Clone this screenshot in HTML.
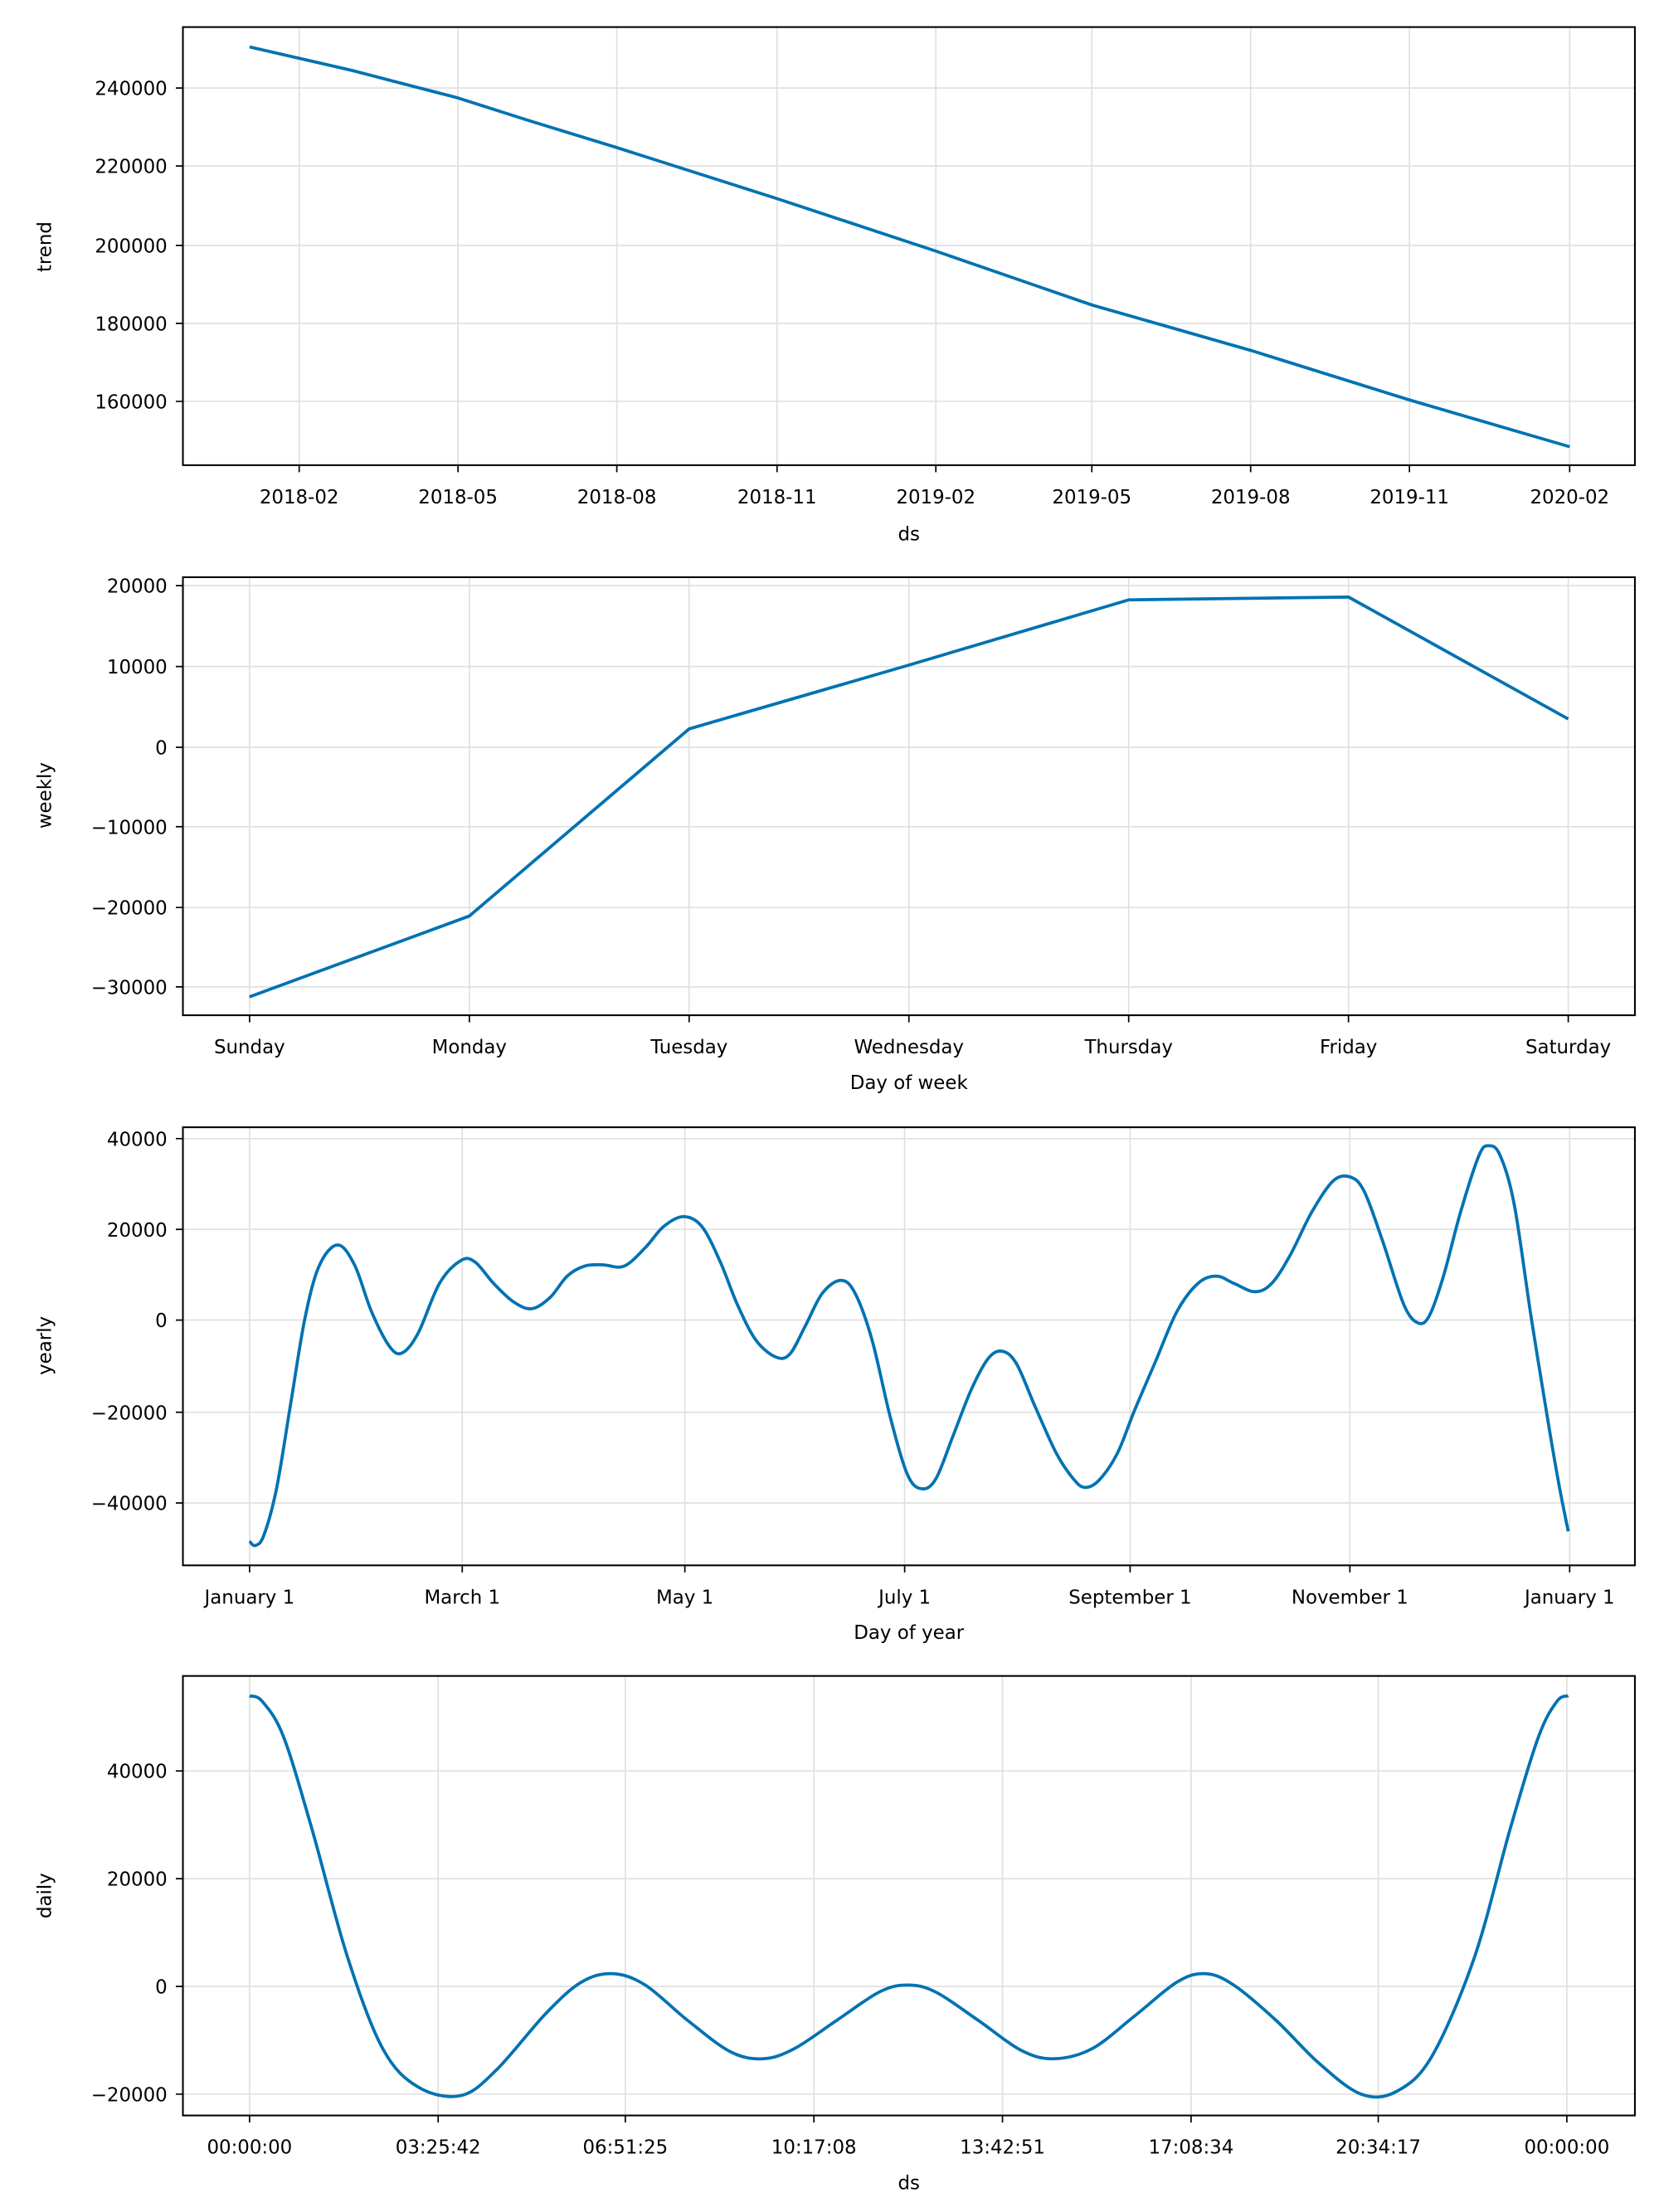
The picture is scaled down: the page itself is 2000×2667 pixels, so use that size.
<!DOCTYPE html>
<html><head><style>html,body{margin:0;padding:0;background:#fff}svg{display:block}</style></head><body>
<svg id="s" width="2000" height="2667" viewBox="0 0 1170 1560" xmlns="http://www.w3.org/2000/svg" font-family="'DejaVu Sans','Liberation Sans',sans-serif" font-size="13.4">
<rect width="1170" height="1560" fill="#fff"/>
<g stroke="#e0e0e0" stroke-width="1">
<line x1="211" y1="19" x2="211" y2="328"/><line x1="323" y1="19" x2="323" y2="328"/><line x1="435" y1="19" x2="435" y2="328"/><line x1="548" y1="19" x2="548" y2="328"/><line x1="660" y1="19" x2="660" y2="328"/><line x1="770" y1="19" x2="770" y2="328"/><line x1="882" y1="19" x2="882" y2="328"/><line x1="994" y1="19" x2="994" y2="328"/><line x1="1107" y1="19" x2="1107" y2="328"/>
<line x1="129" y1="62" x2="1153" y2="62"/><line x1="129" y1="117" x2="1153" y2="117"/><line x1="129" y1="173" x2="1153" y2="173"/><line x1="129" y1="228" x2="1153" y2="228"/><line x1="129" y1="283" x2="1153" y2="283"/>
<line x1="176" y1="407" x2="176" y2="716"/><line x1="331" y1="407" x2="331" y2="716"/><line x1="486" y1="407" x2="486" y2="716"/><line x1="641" y1="407" x2="641" y2="716"/><line x1="796" y1="407" x2="796" y2="716"/><line x1="951" y1="407" x2="951" y2="716"/><line x1="1106" y1="407" x2="1106" y2="716"/>
<line x1="129" y1="413" x2="1153" y2="413"/><line x1="129" y1="470" x2="1153" y2="470"/><line x1="129" y1="527" x2="1153" y2="527"/><line x1="129" y1="583" x2="1153" y2="583"/><line x1="129" y1="640" x2="1153" y2="640"/><line x1="129" y1="696" x2="1153" y2="696"/>
<line x1="176" y1="795" x2="176" y2="1104"/><line x1="326" y1="795" x2="326" y2="1104"/><line x1="483" y1="795" x2="483" y2="1104"/><line x1="638" y1="795" x2="638" y2="1104"/><line x1="797" y1="795" x2="797" y2="1104"/><line x1="952" y1="795" x2="952" y2="1104"/><line x1="1107" y1="795" x2="1107" y2="1104"/>
<line x1="129" y1="803" x2="1153" y2="803"/><line x1="129" y1="867" x2="1153" y2="867"/><line x1="129" y1="931" x2="1153" y2="931"/><line x1="129" y1="996" x2="1153" y2="996"/><line x1="129" y1="1060" x2="1153" y2="1060"/>
<line x1="176" y1="1182" x2="176" y2="1492"/><line x1="309" y1="1182" x2="309" y2="1492"/><line x1="441" y1="1182" x2="441" y2="1492"/><line x1="574" y1="1182" x2="574" y2="1492"/><line x1="707" y1="1182" x2="707" y2="1492"/><line x1="840" y1="1182" x2="840" y2="1492"/><line x1="972" y1="1182" x2="972" y2="1492"/><line x1="1105" y1="1182" x2="1105" y2="1492"/>
<line x1="129" y1="1249" x2="1153" y2="1249"/><line x1="129" y1="1325" x2="1153" y2="1325"/><line x1="129" y1="1401" x2="1153" y2="1401"/><line x1="129" y1="1477" x2="1153" y2="1477"/>
</g>
<g fill="none" stroke="#0072B2" stroke-width="2.2" stroke-linejoin="round">
<polyline points="176,33 250,50 323,69 370,84 435,104 548,140 660,177 770,215 882,247 994,282 1107,315"/>
<polyline points="176,703 331,646 486,514 641,469 796,423 951,421 1106,507"/>
<polyline class="sm" points="176,1087 180,1090 186,1083 195,1050 205,990 215,930 225,893 238,878 250,892 262,925 275,950 284,954 295,940 310,905 325,889 335,890 348,905 362,918 375,923 388,915 400,900 412,893 425,892 440,893 455,880 468,865 482,858 495,865 508,890 520,920 533,945 547,957 557,955 568,935 580,912 593,903 603,912 615,945 628,1000 640,1040 650,1050 660,1043 672,1013 685,980 697,958 707,953 717,962 730,992 745,1025 757,1043 765,1049 775,1044 788,1025 800,995 815,960 830,925 845,905 858,900 870,905 885,911 897,905 910,885 925,855 940,833 952,830 962,840 975,875 990,920 1000,933 1008,928 1018,900 1030,855 1043,815 1050,808 1058,815 1068,850 1080,930 1093,1010 1100,1050 1106,1080"/>
<polyline class="sm" points="176,1196 185,1200 200,1225 220,1290 245,1380 270,1445 295,1472 325,1478 350,1460 385,1420 410,1398 432,1392 455,1400 485,1425 515,1447 538,1452 560,1445 590,1425 620,1405 640,1400 660,1405 690,1425 720,1446 743,1452 770,1445 800,1422 830,1398 850,1392 870,1400 900,1425 930,1455 960,1477 985,1475 1010,1450 1040,1380 1065,1290 1085,1225 1098,1200 1106,1196"/>
</g>
<g fill="none" stroke="#000" stroke-width="1.2">
<rect x="129" y="19" width="1024" height="309"/>
<rect x="129" y="407" width="1024" height="309"/>
<rect x="129" y="795" width="1024" height="309"/>
<rect x="129" y="1182" width="1024" height="310"/>
</g>
<g fill="#000" text-anchor="end">
<text x="118" y="67">240000</text><text x="118" y="122">220000</text><text x="118" y="178">200000</text><text x="118" y="233">180000</text><text x="118" y="288">160000</text>
<text x="118" y="418">20000</text><text x="118" y="475">10000</text><text x="118" y="532">0</text><text x="118" y="588">−10000</text><text x="118" y="645">−20000</text><text x="118" y="701">−30000</text>
<text x="118" y="808">40000</text><text x="118" y="872">20000</text><text x="118" y="936">0</text><text x="118" y="1001">−20000</text><text x="118" y="1065">−40000</text>
<text x="118" y="1254">40000</text><text x="118" y="1330">20000</text><text x="118" y="1406">0</text><text x="118" y="1482">−20000</text>
</g>
<g fill="#000" text-anchor="middle">
<text x="211" y="355">2018-02</text><text x="323" y="355">2018-05</text><text x="435" y="355">2018-08</text><text x="548" y="355">2018-11</text><text x="660" y="355">2019-02</text><text x="770" y="355">2019-05</text><text x="882" y="355">2019-08</text><text x="994" y="355">2019-11</text><text x="1107" y="355">2020-02</text>
<text x="641" y="381">ds</text>
<text x="176" y="743">Sunday</text><text x="331" y="743">Monday</text><text x="486" y="743">Tuesday</text><text x="641" y="743">Wednesday</text><text x="796" y="743">Thursday</text><text x="951" y="743">Friday</text><text x="1106" y="743">Saturday</text>
<text x="641" y="768">Day of week</text>
<text x="176" y="1131">January 1</text><text x="326" y="1131">March 1</text><text x="483" y="1131">May 1</text><text x="638" y="1131">July 1</text><text x="797" y="1131">September 1</text><text x="952" y="1131">November 1</text><text x="1107" y="1131">January 1</text>
<text x="641" y="1156">Day of year</text>
<text x="176" y="1519">00:00:00</text><text x="309" y="1519">03:25:42</text><text x="441" y="1519">06:51:25</text><text x="574" y="1519">10:17:08</text><text x="707" y="1519">13:42:51</text><text x="840" y="1519">17:08:34</text><text x="972" y="1519">20:34:17</text><text x="1105" y="1519">00:00:00</text>
<text x="641" y="1544">ds</text>
<text transform="translate(36,174) rotate(-90)">trend</text>
<text transform="translate(36,561) rotate(-90)">weekly</text>
<text transform="translate(36,949) rotate(-90)">yearly</text>
<text transform="translate(36,1337) rotate(-90)">daily</text>
</g>
<g stroke="#000" stroke-width="1">
<path d="M211,328v5M323,328v5M435,328v5M548,328v5M660,328v5M770,328v5M882,328v5M994,328v5M1107,328v5M124,62h5M124,117h5M124,173h5M124,228h5M124,283h5"/>
<path d="M176,716v5M331,716v5M486,716v5M641,716v5M796,716v5M951,716v5M1106,716v5M124,413h5M124,470h5M124,527h5M124,583h5M124,640h5M124,696h5"/>
<path d="M176,1104v5M326,1104v5M483,1104v5M638,1104v5M797,1104v5M952,1104v5M1107,1104v5M124,803h5M124,867h5M124,931h5M124,996h5M124,1060h5"/>
<path d="M176,1492v5M309,1492v5M441,1492v5M574,1492v5M707,1492v5M840,1492v5M972,1492v5M1105,1492v5M124,1249h5M124,1325h5M124,1401h5M124,1477h5"/>
</g>
</svg>
<script>
document.querySelectorAll('polyline.sm').forEach(function(pl){
var p=pl.getAttribute('points').trim().split(/\s+/).map(function(s){return s.split(',').map(Number)});
var d='M'+p[0][0]+','+p[0][1];
for(var i=0;i<p.length-1;i++){
var p0=p[i>0?i-1:i],p1=p[i],p2=p[i+1],p3=p[i+2<p.length?i+2:i+1];
var c1x=p1[0]+(p2[0]-p0[0])/6,c1y=p1[1]+(p2[1]-p0[1])/6,c2x=p2[0]-(p3[0]-p1[0])/6,c2y=p2[1]-(p3[1]-p1[1])/6;
d+=' C'+c1x.toFixed(2)+','+c1y.toFixed(2)+' '+c2x.toFixed(2)+','+c2y.toFixed(2)+' '+p2[0]+','+p2[1];}
var path=document.createElementNS('http://www.w3.org/2000/svg','path');
path.setAttribute('d',d);pl.parentNode.replaceChild(path,pl);
});
</script>
</body></html>
